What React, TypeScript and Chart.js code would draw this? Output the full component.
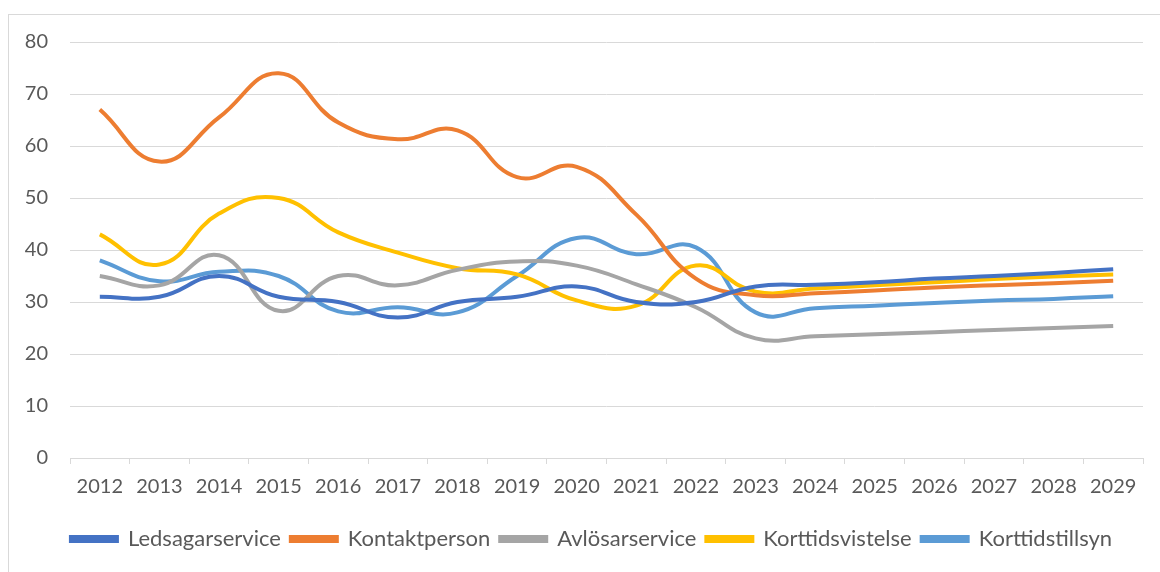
import React, { useEffect, useRef } from "react";
import { Chart, registerables } from "chart.js";

Chart.register(...registerables);

const years = ["2012","2013","2014","2015","2016","2017","2018","2019","2020","2021","2022","2023","2024","2025","2026","2027","2028","2029"];
const ledsagarservice = [31, 31, 35, 31, 30, 27, 30, 31, 33, 30, 30, 33, 33.3, 33.8, 34.5, 35, 35.6, 36.3];
const kontaktperson = [67, 57, 65.5, 74, 64.5, 61.3, 63, 54, 56, 46.8, 34.5, 31.3, 31.7, 32.2, 32.8, 33.2, 33.6, 34.1];
const avlosarservice = [35, 33.2, 39, 28.3, 35, 33.2, 36.2, 37.8, 37, 33.4, 29, 23, 23.4, 23.8, 24.2, 24.6, 25, 25.4];
const korttidsvistelse = [43, 37.2, 47, 50, 43.4, 39.5, 36.5, 35.3, 30.3, 29.3, 37, 32, 32.6, 33.2, 33.8, 34.4, 34.9, 35.3];
const korttidstillsyn = [38, 34, 35.8, 35, 28.2, 29, 28, 35, 42.3, 39.2, 40.5, 28, 28.8, 29.3, 29.8, 30.3, 30.6, 31.1];

const seriesNames = ["Ledsagarservice", "Kontaktperson", "Avlösarservice", "Korttidsvistelse", "Korttidstillsyn"];
const seriesColors = ["#4472C4", "#ED7D31", "#A5A5A5", "#FFC000", "#5B9BD5"];
const yTicks = [0, 10, 20, 30, 40, 50, 60, 70, 80];

const FONT = "Lato, 'Open Sans', sans-serif";
const TEXT = "#595959";
const GRID = "#d9d9d9";

const legendShift = {
  id: "legendShift",
  afterLayout(chart: any) {
    if (chart.legend) {
      chart.legend.left += 20;
      chart.legend.right += 20;
    }
  },
};

export default function App() {
  const ref = useRef<HTMLCanvasElement | null>(null);
  useEffect(() => {
    if (!ref.current) return;
    const all = [ledsagarservice, kontaktperson, avlosarservice, korttidsvistelse, korttidstillsyn];
    const chart = new Chart(ref.current, {
      type: "line",
      data: {
        labels: years,
        datasets: all.map((d, i) => ({
          label: seriesNames[i],
          data: d,
          borderColor: seriesColors[i],
          backgroundColor: seriesColors[i],
          borderWidth: 4,
          pointRadius: 0,
          tension: 0.45,
          fill: false,
        })),
      },
      plugins: [legendShift],
      options: {
        animation: false,
        responsive: false,
        maintainAspectRatio: false,
        layout: { padding: { left: 0, right: 17, top: 42, bottom: 12 } },
        plugins: {
          tooltip: { enabled: false },
          legend: {
            position: "bottom",
            labels: {
              boxWidth: 46,
              boxHeight: 4,
              padding: 10,
              color: TEXT,
              font: { family: FONT, size: 22 },
            },
          },
        },
        scales: {
          x: {
            offset: true,
            grid: {
              offset: true,
              drawOnChartArea: false,
              drawTicks: true,
              tickLength: 6,
              color: GRID,
            },
            border: { color: GRID, width: 1 },
            ticks: {
              color: TEXT,
              font: { family: FONT, size: 20 },
              padding: 11,
              maxRotation: 0,
              autoSkip: false,
            },
            afterFit: (s: any) => { s.height = 60; },
          },
          y: {
            min: 0,
            max: 80,
            afterBuildTicks: (s: any) => { s.ticks = yTicks.map((v) => ({ value: v })); },
            grid: { color: GRID, drawTicks: false, lineWidth: 1 },
            border: { display: false },
            ticks: {
              color: TEXT,
              font: { family: FONT, size: 20 },
              padding: 22,
            },
            afterFit: (s: any) => { s.width = 70; },
          },
        },
      },
    });
    return () => chart.destroy();
  }, []);
  return (
    <div style={{ position: "fixed", left: 0, top: 0, width: 1160, height: 572, background: "#fff", overflow: "hidden" }}>
      <div style={{ position: "absolute", left: 8, top: 14, width: 1200, height: 600, border: "1px solid #d9d9d9", boxSizing: "border-box" }} />
      <canvas ref={ref} width={1160} height={572} style={{ position: "absolute", left: 0, top: 0, width: 1160, height: 572 }} />
    </div>
  );
}
